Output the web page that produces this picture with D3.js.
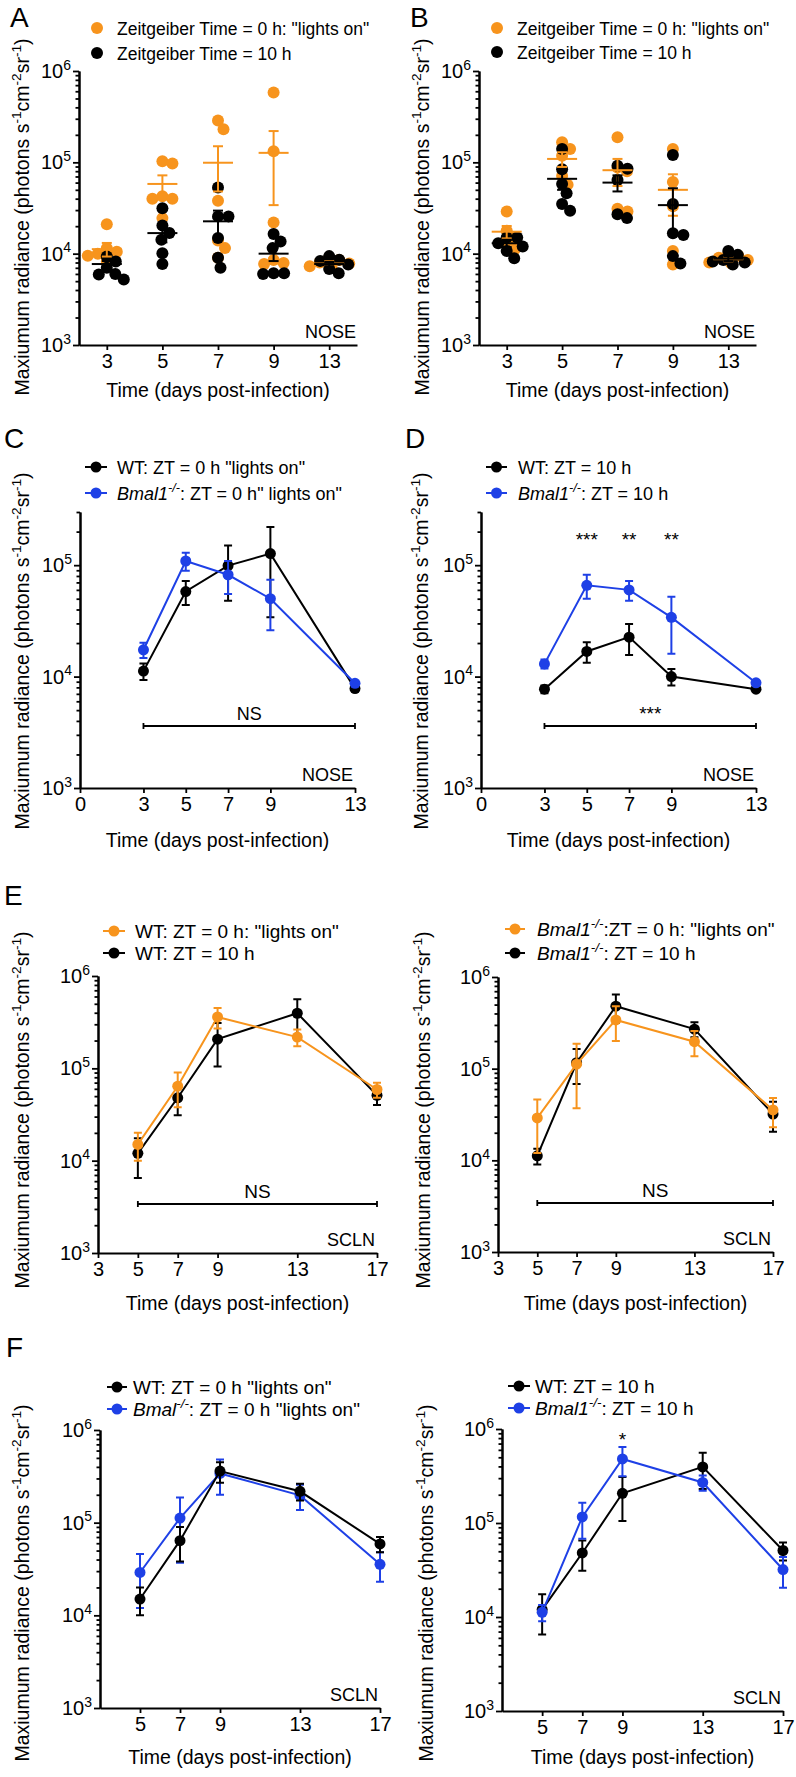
<!DOCTYPE html>
<html><head><meta charset="utf-8">
<script src="https://cdn.jsdelivr.net/npm/d3@7"></script>
<style>
body{margin:0;background:#fff}
svg{display:block}
text{font-family:"Liberation Sans",Arial,Helvetica,sans-serif;fill:#000}
</style>
</head><body>
<svg id="c" width="796" height="1777"></svg>
<script>
// ---------------- DATA ----------------
const noseDays = [3, 5, 7, 9, 13];
const sclnDays = [5, 7, 9, 13, 17];
const noseXTicks = [0, 3, 5, 7, 9, 13];
const sclnXTicksE = [3, 5, 7, 9, 13, 17];
const sclnXTicksF = [5, 7, 9, 13, 17];

// Panel A (WT) individual mice
const wtZT0Dots = [
  [21000, 11500, 10500, 10000, 9500, 8200],
  [103000, 97000, 42500, 40000, 40000, 24500],
  [287000, 230000, 38000, 13900, 11500, 9000],
  [580000, 132000, 22000, 8500, 7900, 7700],
  [9000, 8500, 8000, 7800, 7300, 7000]
];
const wtZT10Dots = [
  [9300, 8200, 7000, 6000, 5900, 5200],
  [31500, 20300, 16800, 14200, 10100, 7700],
  [53000, 25600, 25600, 14800, 9000, 7000],
  [16400, 13600, 11500, 6100, 6000, 6100],
  [9400, 8600, 8300, 7600, 6800, 6100]
];
// Panel B (Bmal1-/-) individual mice
const bmalZT0Dots = [
  [29000, 17800, 15000, 13000, 11200],
  [166000, 140000, 118000, 71000, 57000],
  [188000, 88000, 80000, 31000, 29000],
  [140000, 61000, 33000, 10700, 7600],
  [10000, 9500, 9000, 8500, 8000, 7800]
];
const bmalZT10Dots = [
  [15000, 15000, 13000, 12000, 10700, 8900],
  [140000, 84000, 58000, 46000, 35000, 29500],
  [92000, 85000, 64000, 27000, 24500],
  [120000, 35000, 16700, 16000, 9400, 7800],
  [10700, 9700, 8500, 8200, 8000, 7600]
];
// NOSE means / SEM
const wtZT0Nose = [11200, 58000, 99000, 127000, 7800];
const wtZT0NoseSem = [1900, 14000, 51000, 93000, 450];
const wtZT10Nose = [7700, 16800, 22600, 10000, 7700];
const wtZT10NoseSem = [600, 3500, 7000, 1700, 400];
const bmalZT0Nose = [17400, 109000, 82000, 50000, 8700];
const bmalZT0NoseSem = [2700, 20000, 27000, 24000, 450];
const bmalZT10Nose = [13000, 66000, 60000, 34000, 8800];
const bmalZT10NoseSem = [1200, 16000, 12000, 18000, 500];
// SCLN means / SEM
const wtZT0Scln = [15000, 64000, 360000, 218000, 59000];
const wtZT0SclnSem = [5000, 26000, 90000, 45000, 11000];
const wtZT10Scln = [12000, 48000, 207000, 395000, 51000];
const wtZT10SclnSem = [5500, 17000, 102000, 165000, 11000];
const bmalZT0Scln = [29000, 112000, 340000, 197000, 35500];
const bmalZT0SclnSem = [17000, 75000, 140000, 60000, 12500];
const bmalZT10Scln = [11200, 116000, 480000, 270000, 32000];
const bmalZT10SclnSem = [2200, 48000, 165000, 50000, 11500];
// significance
const dStarDays = [5, 7, 9];
const dStars = ["***", "**", "**"];
const fStarDays = [9];
const fStars = ["*"];

// ---------------- STYLE ----------------
const ORANGE = "#F7941D", BLUE = "#1E40E6", BLACK = "#000";
const FONT_TICK = 20, FONT_TITLE = 19.5;
const svg = d3.select("#c");

function rich(el, parts, fs) {
  let shift = 0;
  parts.forEach(p => {
    const ts = el.append("tspan").text(p.t);
    const target = p.sup ? -fs * 0.42 : 0;
    ts.attr("dy", target - shift);
    shift = target;
    if (p.sup) ts.attr("font-size", fs * 0.7);
    if (p.it) ts.attr("font-style", "italic");
  });
  return el;
}

function styleAxis(g) {
  g.selectAll("path.domain").attr("stroke", "#000").attr("stroke-width", 2);
  g.selectAll(".tick line").attr("stroke", "#000").attr("stroke-width", 1.8);
}

function logYAxis(x0, y, maxV, labelCx, labelCy) {
  const majors = [], minors = [];
  for (let e = 3; e < 6; e++) {
    for (let m = 1; m < 10; m++) {
      const v = m * Math.pow(10, e);
      if (v > maxV * 1.001) break;
      (m === 1 ? majors : minors).push(v);
    }
  }
  if (maxV >= 1e6) majors.push(1e6);
  const g = svg.append("g").attr("transform", `translate(${x0},0)`);
  g.call(d3.axisLeft(y).tickValues(minors).tickSize(3.5).tickSizeOuter(0).tickFormat(""));
  g.append("g").call(d3.axisLeft(y).tickValues(majors).tickSize(6).tickSizeOuter(0).tickFormat(""));
  styleAxis(g);
  majors.forEach(v => {
    const t = g.append("text").attr("x", -8).attr("y", y(v) + 7)
      .attr("text-anchor", "end").attr("font-size", FONT_TICK);
    rich(t, [{t: "10"}, {t: String(Math.round(Math.log10(v))), sup: true}], FONT_TICK);
  });
  const lab = svg.append("text").attr("text-anchor", "middle").attr("font-size", FONT_TITLE)
    .attr("transform", `translate(${labelCx},${labelCy}) rotate(-90)`);
  rich(lab, [{t: "Maxiumum radiance (photons s"}, {t: "-1", sup: true}, {t: "cm"},
    {t: "-2", sup: true}, {t: "sr"}, {t: "-1", sup: true}, {t: ")"}], FONT_TITLE);
}

function xAxisBottom(x, yAxisPos, ticks, titleY) {
  const g = svg.append("g").attr("transform", `translate(0,${yAxisPos})`);
  g.call(d3.axisBottom(x).tickValues(ticks).tickSize(5).tickSizeOuter(0).tickPadding(4).tickFormat(d3.format("d")));
  styleAxis(g);
  g.selectAll(".tick text").attr("font-size", FONT_TICK).attr("font-family", "Liberation Sans, Arial, sans-serif").attr("fill", "#000");
  const r = x.range();
  svg.append("text").attr("x", (r[0] + r[r.length - 1]) / 2).attr("y", titleY)
    .attr("text-anchor", "middle").attr("font-size", FONT_TITLE).text("Time (days post-infection)");
}

function letter(ch, x, y) {
  svg.append("text").attr("x", x).attr("y", y).attr("font-size", 28).text(ch);
}
function tag(str, x, y) {
  svg.append("text").attr("x", x).attr("y", y).attr("text-anchor", "end").attr("font-size", 18).text(str);
}
function bracket(x1, x2, yb, label, fs) {
  svg.append("path").attr("d", `M${x1},${yb - 3}V${yb + 3}M${x1},${yb}H${x2}M${x2},${yb - 3}V${yb + 3}`)
    .attr("stroke", "#000").attr("stroke-width", 1.8).attr("fill", "none");
  svg.append("text").attr("x", (x1 + x2) / 2).attr("y", yb - 6).attr("text-anchor", "middle")
    .attr("font-size", fs).text(label);
}

// beeswarm offsets for one column of one series
function swarm(vals, y, R, f) {
  const pts = vals.map(v => ({v, y: y(v)})).sort((a, b) => a.y - b.y);
  const placed = [];
  pts.forEach(p => {
    let best = null;
    for (let k = 0; k < 80 && best === null; k++) {
      const offs = k === 0 ? [0] : [k * 0.5, -k * 0.5];
      for (const o of offs) {
        if (placed.every(q => (q.dx - o) ** 2 + (q.y - p.y) ** 2 >= (2 * R * f) ** 2)) { best = o; break; }
      }
    }
    p.dx = best === null ? 0 : best;
    placed.push(p);
  });
  return pts;
}

// ---------------- DOT PANELS (A, B) ----------------
function dotPanel(c) {
  const x = d3.scalePoint().domain(noseDays).range([c.x0, c.x1]).padding(0.5);
  const y = d3.scaleLog().domain([1e3, 1e6]).range([c.yb, c.yt]);
  logYAxis(c.x0, y, 1e6, c.labX, c.labY);
  const gx = svg.append("g").attr("transform", `translate(0,${c.yb})`);
  gx.call(d3.axisBottom(x).tickSize(5).tickSizeOuter(0).tickPadding(4));
  styleAxis(gx);
  gx.selectAll(".tick text").attr("font-size", FONT_TICK).attr("fill", "#000");
  svg.append("text").attr("x", (c.x0 + c.x1) / 2).attr("y", c.titleY).attr("text-anchor", "middle")
    .attr("font-size", FONT_TITLE).text("Time (days post-infection)");

  const R = 6;
  [[c.dots0, ORANGE], [c.dots10, BLACK]].forEach(([dots, col]) => {
    noseDays.forEach((d, i) => {
      const pts = swarm(dots[i], y, R, 0.85);
      const cx = x(d);
      svg.selectAll(null).data(pts).enter().append("circle")
        .attr("cx", p => cx + p.dx).attr("cy", p => p.y).attr("r", R).attr("fill", col);
    });
  });
  const meanBars = (means, sems, col) => {
    noseDays.forEach((d, i) => {
      const cx = x(d), m = means[i], s = sems[i];
      const g = svg.append("g").attr("stroke", col).attr("stroke-width", 2).attr("fill", "none");
      g.append("line").attr("x1", cx - 15).attr("x2", cx + 15).attr("y1", y(m)).attr("y2", y(m));
      g.append("line").attr("x1", cx).attr("x2", cx).attr("y1", y(m + s)).attr("y2", y(Math.max(m - s, 1001)));
      g.append("line").attr("x1", cx - 5).attr("x2", cx + 5).attr("y1", y(m + s)).attr("y2", y(m + s));
      g.append("line").attr("x1", cx - 5).attr("x2", cx + 5).attr("y1", y(m - s)).attr("y2", y(m - s));
    });
  };
  meanBars(c.m0, c.s0, ORANGE);
  meanBars(c.m10, c.s10, BLACK);
  tag("NOSE", c.x1 - 1, c.yb - 7);
  const L = [{col: ORANGE, t: "Zeitgeiber Time = 0 h: \"lights on\""}, {col: BLACK, t: "Zeitgeiber Time = 10 h"}];
  L.forEach((l, i) => {
    const cy = c.legY[i];
    svg.append("circle").attr("cx", c.legX).attr("cy", cy).attr("r", 6).attr("fill", l.col);
    svg.append("text").attr("x", c.legX + 20).attr("y", cy + 6.5).attr("font-size", 17.5).text(l.t);
  });
}

// ---------------- LINE PANELS ----------------
function linePanel(c) {
  const x = d3.scaleLinear().domain(c.xd).range([c.x0, c.x1]);
  const y = d3.scaleLog().domain([1e3, c.ymax]).range([c.yb, c.yt]);
  logYAxis(c.x0, y, c.ymax, c.labX, c.labY);
  xAxisBottom(x, c.yb, c.xticks, c.titleY);
  const line = d3.line().x(d => x(d.day)).y(d => y(d.m));
  c.series.forEach(s => {
    const data = c.days.map((d, i) => ({day: d, m: s.m[i], s: s.s[i]}));
    const g = svg.append("g");
    g.append("path").datum(data).attr("d", line).attr("fill", "none").attr("stroke", s.col).attr("stroke-width", 2);
    data.forEach(d => {
      const cx = x(d.day), hi = y(d.m + d.s), lo = y(Math.max(d.m - d.s, 1001));
      g.append("path").attr("d", `M${cx},${hi}V${lo}M${cx - 4},${hi}H${cx + 4}M${cx - 4},${lo}H${cx + 4}`)
        .attr("stroke", s.col).attr("stroke-width", 2).attr("fill", "none");
    });
    g.selectAll("circle").data(data).enter().append("circle")
      .attr("cx", d => x(d.day)).attr("cy", d => y(d.m)).attr("r", 5.5).attr("fill", s.col);
  });
  tag(c.tag, c.x1 - 2, c.yb - 7);
  if (c.bracket) bracket(x(c.bracket.from), x(c.bracket.to), c.bracket.y, c.bracket.label, c.bracket.fs);
  if (c.stars) c.stars.days.forEach((d, i) => {
    svg.append("text").attr("x", x(d)).attr("y", c.stars.y).attr("text-anchor", "middle")
      .attr("font-size", 19).text(c.stars.labels[i]);
  });
  c.legend.forEach((l, i) => {
    const cy = c.legY[i];
    svg.append("line").attr("x1", c.legX[0]).attr("x2", c.legX[1]).attr("y1", cy).attr("y2", cy)
      .attr("stroke", l.col).attr("stroke-width", 2);
    svg.append("circle").attr("cx", (c.legX[0] + c.legX[1]) / 2).attr("cy", cy).attr("r", 5.5).attr("fill", l.col);
    const t = svg.append("text").attr("x", c.legX[2]).attr("y", cy + 6.5).attr("font-size", c.legFs);
    rich(t, l.parts, c.legFs);
  });
}

const bmalParts = (rest) => [{t: "Bmal1", it: true}, {t: "-/-", sup: true, it: true}, {t: rest}];

// A
letter("A", 10, 27);
dotPanel({x0: 79, x1: 357, yt: 71, yb: 345, labX: 29, labY: 217, titleY: 397,
  dots0: wtZT0Dots, dots10: wtZT10Dots, m0: wtZT0Nose, s0: wtZT0NoseSem, m10: wtZT10Nose, s10: wtZT10NoseSem,
  legX: 97, legY: [28, 53]});
// B
letter("B", 410, 27);
dotPanel({x0: 479, x1: 756, yt: 71, yb: 345, labX: 429, labY: 217, titleY: 397,
  dots0: bmalZT0Dots, dots10: bmalZT10Dots, m0: bmalZT0Nose, s0: bmalZT0NoseSem, m10: bmalZT10Nose, s10: bmalZT10NoseSem,
  legX: 497, legY: [28, 52]});
// C
letter("C", 4, 448);
linePanel({x0: 80, x1: 355, xd: [0, 13], yt: 512, yb: 788, ymax: 3e5, labX: 29, labY: 651, titleY: 847,
  xticks: noseXTicks, days: noseDays, tag: "NOSE",
  series: [{col: BLACK, m: wtZT0Nose, s: wtZT0NoseSem}, {col: BLUE, m: bmalZT0Nose, s: bmalZT0NoseSem}],
  bracket: {from: 3, to: 13, y: 726, label: "NS", fs: 18},
  legX: [85, 107, 117], legY: [467, 493], legFs: 18,
  legend: [{col: BLACK, parts: [{t: "WT: ZT = 0 h \"lights on\""}]}, {col: BLUE, parts: bmalParts(": ZT = 0 h\" lights on\"")}]});
// D
letter("D", 405, 448);
linePanel({x0: 481, x1: 756, xd: [0, 13], yt: 512, yb: 788, ymax: 3e5, labX: 428, labY: 651, titleY: 847,
  xticks: noseXTicks, days: noseDays, tag: "NOSE",
  series: [{col: BLACK, m: wtZT10Nose, s: wtZT10NoseSem}, {col: BLUE, m: bmalZT10Nose, s: bmalZT10NoseSem}],
  bracket: {from: 3, to: 13, y: 726, label: "***", fs: 19},
  stars: {days: dStarDays, labels: dStars, y: 546},
  legX: [486, 507, 518], legY: [467, 493], legFs: 18,
  legend: [{col: BLACK, parts: [{t: "WT: ZT = 10 h"}]}, {col: BLUE, parts: bmalParts(": ZT = 10 h")}]});
// E left
letter("E", 4, 905);
linePanel({x0: 98, x1: 377, xd: [3, 17], yt: 976, yb: 1253, ymax: 1e6, labX: 29, labY: 1110, titleY: 1310,
  xticks: sclnXTicksE, days: sclnDays, tag: "SCLN",
  series: [{col: BLACK, m: wtZT10Scln, s: wtZT10SclnSem}, {col: ORANGE, m: wtZT0Scln, s: wtZT0SclnSem}],
  bracket: {from: 5, to: 17, y: 1204, label: "NS", fs: 19},
  legX: [103, 125, 135], legY: [931, 953], legFs: 19,
  legend: [{col: ORANGE, parts: [{t: "WT: ZT = 0 h: \"lights on\""}]}, {col: BLACK, parts: [{t: "WT: ZT = 10 h"}]}]});
// E right
linePanel({x0: 498, x1: 773, xd: [3, 17], yt: 977, yb: 1252, ymax: 1e6, labX: 430, labY: 1110, titleY: 1310,
  xticks: sclnXTicksE, days: sclnDays, tag: "SCLN",
  series: [{col: BLACK, m: bmalZT10Scln, s: bmalZT10SclnSem}, {col: ORANGE, m: bmalZT0Scln, s: bmalZT0SclnSem}],
  bracket: {from: 5, to: 17, y: 1203, label: "NS", fs: 19},
  legX: [505, 525, 537], legY: [929, 953], legFs: 19,
  legend: [{col: ORANGE, parts: bmalParts(":ZT = 0 h: \"lights on\"")}, {col: BLACK, parts: bmalParts(": ZT = 10 h")}]});
// F left
letter("F", 6, 1357);
linePanel({x0: 100, x1: 380, xd: [3, 17], yt: 1430, yb: 1708, ymax: 1e6, labX: 29, labY: 1583, titleY: 1764,
  xticks: sclnXTicksF, days: sclnDays, tag: "SCLN",
  series: [{col: BLUE, m: bmalZT0Scln, s: bmalZT0SclnSem}, {col: BLACK, m: wtZT0Scln, s: wtZT0SclnSem}],
  legX: [107, 127, 133], legY: [1387, 1409], legFs: 19,
  legend: [{col: BLACK, parts: [{t: "WT: ZT = 0 h \"lights on\""}]},
           {col: BLUE, parts: [{t: "Bmal", it: true}, {t: "-/-", sup: true, it: true}, {t: ": ZT = 0 h \"lights on\""}]}]});
// F right
linePanel({x0: 502, x1: 783, xd: [3, 17], yt: 1429, yb: 1711, ymax: 1e6, labX: 433, labY: 1583, titleY: 1764,
  xticks: sclnXTicksF, days: sclnDays, tag: "SCLN",
  series: [{col: BLACK, m: wtZT10Scln, s: wtZT10SclnSem}, {col: BLUE, m: bmalZT10Scln, s: bmalZT10SclnSem}],
  stars: {days: fStarDays, labels: fStars, y: 1446},
  legX: [508, 530, 535], legY: [1386, 1408], legFs: 19,
  legend: [{col: BLACK, parts: [{t: "WT: ZT = 10 h"}]}, {col: BLUE, parts: bmalParts(": ZT = 10 h")}]});
</script>
</body></html>
